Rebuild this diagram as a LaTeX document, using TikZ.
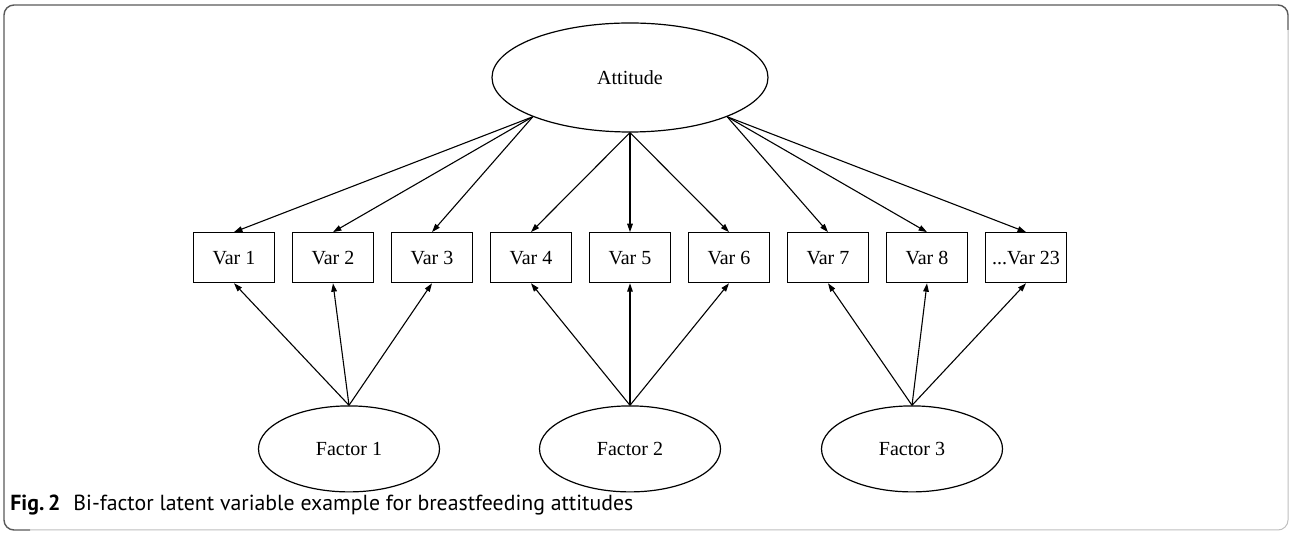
\documentclass[tikz,border=0pt]{standalone}
\usepackage{fontspec}
\setmainfont{Liberation Serif}
\newfontfamily\capfont{PT Sans}
\usetikzlibrary{arrows.meta, positioning, shapes.geometric}
\tikzset{
	latent/.style={ellipse, draw, line width=0.6pt, inner sep=0pt,
		font=\fontsize{10}{12}\selectfont},
	obs/.style={rectangle, draw, line width=0.6pt, minimum width=40.5pt,
		minimum height=25pt, inner sep=1pt, font=\fontsize{10}{12}\selectfont},
	arr/.style={-{Triangle[length=4.2pt, width=2.8pt]}, line width=0.55pt},
	captxt/.style={font=\capfont\fontsize{10.9}{13}\selectfont, anchor=base west, inner sep=0pt},
}

\begin{document}
\begin{tikzpicture}[x=0.5pt, y=-0.5pt]
	\useasboundingbox (0,0) rectangle (1290,533);
	% frame
	\draw[black!65, line width=0.7pt, rounded corners=5pt] (1288,30) -- (1288,5) -- (4,5) -- (4,530) -- (30,530);
	\draw[black!25, line width=0.5pt, rounded corners=5pt] (30,530) -- (1288,530) -- (1288,30);
	
	\node[latent, minimum width=138pt, minimum height=54.5pt] (att) at (630,77.5) {Attitude};
	\node[obs, below=49.75pt of att] (v5) {Var 5};
	\node[obs, left=8.4pt of v5] (v4) {Var 4};
	\node[obs, left=8.4pt of v4] (v3) {Var 3};
	\node[obs, left=8.4pt of v3] (v2) {Var 2};
	\node[obs, left=8.4pt of v2] (v1) {Var 1};
	\node[obs, right=8.4pt of v5] (v6) {Var 6};
	\node[obs, right=8.4pt of v6] (v7) {Var 7};
	\node[obs, right=8.4pt of v7] (v8) {Var 8};
	\node[obs, right=8.4pt of v8] (v23) {...Var 23};
	
	\node[latent, minimum width=90.5pt, minimum height=43pt, below=61pt of v2, xshift=8pt] (f1) {Factor 1};
	\node[latent, minimum width=90.5pt, minimum height=43pt, below=61pt of v5] (f2) {Factor 2};
	\node[latent, minimum width=90.5pt, minimum height=43pt, below=61pt of v8, xshift=-7.5pt] (f3) {Factor 3};
	
	\foreach \v in {v1,v2,v3} \draw[arr] (att.202) -- (\v.north);
	\foreach \v in {v4,v5,v6} \draw[arr] (att.south) -- (\v.north);
	\foreach \v in {v7,v8,v23} \draw[arr] (att.338) -- (\v.north);
	
	\foreach \v in {v1,v2,v3} \draw[arr] (f1.north) -- (\v.south);
	\foreach \v in {v4,v5,v6} \draw[arr] (f2.north) -- (\v.south);
	\foreach \v in {v7,v8,v23} \draw[arr] (f3.north) -- (\v.south);
	
	\node[captxt] (caption) at (10,511) {\textbf{Fig.\,2}\hspace{0.6em}Bi-factor latent variable example for breastfeeding attitudes};
\end{tikzpicture}
\end{document}
